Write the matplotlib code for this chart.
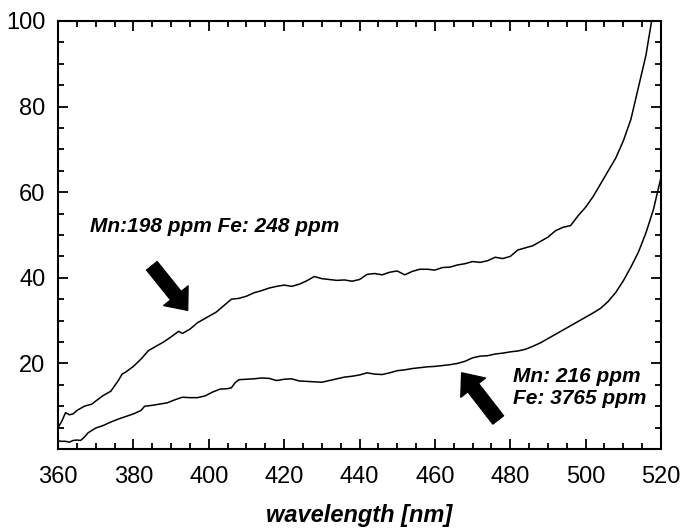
import matplotlib.pyplot as plt
from matplotlib.ticker import MultipleLocator

plt.rcParams['font.family'] = ['Liberation Sans', 'DejaVu Sans']

# upper curve (Mn 198 ppm, Fe 248 ppm)
wl_a = [360, 361, 362, 363, 364, 365, 367, 369, 370, 372, 374, 376, 377, 378, 380,
        382, 384, 386, 388, 390, 392, 393, 395, 397, 400, 402, 404, 406, 408, 410,
        412, 414, 416, 418, 420, 422, 424, 426, 428, 430, 432, 434, 436, 438, 440,
        442, 444, 446, 448, 450, 452, 454, 456, 458, 460, 462, 464, 466, 468, 470,
        472, 474, 476, 478, 480, 482, 484, 486, 488, 490, 492, 494, 496, 498, 500,
        502, 504, 506, 508, 510, 512, 514, 516, 517.5, 518]
val_a = [5.0, 6.5, 8.5, 8.0, 8.2, 9.0, 10.0, 10.5, 11.2, 12.5, 13.5, 16.0, 17.5, 18.0, 19.3,
         21.0, 23.0, 24.0, 25.0, 26.2, 27.5, 27.0, 28.0, 29.5, 31.0, 32.0, 33.5, 35.0, 35.2, 35.7,
         36.5, 37.0, 37.6, 38.0, 38.3, 38.0, 38.5, 39.3, 40.3, 39.8, 39.6, 39.4, 39.5, 39.2, 39.6,
         40.8, 41.0, 40.7, 41.3, 41.6, 40.7, 41.5, 42.0, 42.0, 41.8, 42.4, 42.5, 43.0, 43.3, 43.8,
         43.6, 44.0, 44.8, 44.5, 45.0, 46.5, 47.0, 47.5, 48.5, 49.5, 51.0, 51.8, 52.2, 54.5, 56.5,
         59.0, 62.0, 65.0, 68.0, 72.0, 77.0, 84.5, 92.0, 100.0, 102.0]

# lower curve (Mn 216 ppm, Fe 3765 ppm)
wl_b = [360, 361, 362, 363, 364, 365, 366, 367, 368, 370, 372, 374, 376, 378, 380,
        382, 383, 385, 387, 389, 391, 393, 395, 397, 399, 401, 403, 405, 406, 407,
        408, 410, 412, 414, 416, 418, 420, 422, 424, 426, 428, 430, 432, 434, 436,
        438, 440, 442, 444, 446, 448, 450, 452, 454, 456, 458, 460, 462, 464, 466,
        468, 470, 472, 474, 476, 478, 480, 482, 484, 486, 488, 490, 492, 494, 496,
        498, 500, 502, 504, 506, 508, 510, 512, 514, 516, 518, 520]
val_b = [1.9, 1.8, 1.8, 1.6, 2.0, 2.1, 2.0, 2.8, 3.8, 4.9, 5.5, 6.3, 7.0, 7.6, 8.2,
         9.0, 10.0, 10.2, 10.5, 10.8, 11.5, 12.1, 12.0, 12.0, 12.4, 13.3, 14.0, 14.1, 14.3, 15.5,
         16.2, 16.3, 16.4, 16.6, 16.5, 16.0, 16.3, 16.4, 15.9, 15.8, 15.7, 15.6, 16.0, 16.4, 16.8,
         17.0, 17.3, 17.8, 17.5, 17.4, 17.8, 18.3, 18.5, 18.8, 19.0, 19.2, 19.3, 19.5, 19.7, 20.0,
         20.5, 21.3, 21.7, 21.8, 22.2, 22.4, 22.7, 22.9, 23.3, 24.0, 24.8, 25.8, 26.8, 27.8, 28.8,
         29.8, 30.8, 31.8, 32.9, 34.5, 36.6, 39.3, 42.5, 46.0, 50.5, 56.0, 63.5]

fig = plt.figure(figsize=(6.85, 5.3), dpi=100)
ax = fig.add_axes([0.0847, 0.1528, 0.8803, 0.8076])

ax.plot(wl_a, val_a, color='black', lw=1.1)
ax.plot(wl_b, val_b, color='black', lw=1.1)

ax.set_xlim(360, 520)
ax.set_ylim(0, 100)
ax.xaxis.set_major_locator(MultipleLocator(20))
ax.xaxis.set_minor_locator(MultipleLocator(5))
ax.yaxis.set_minor_locator(MultipleLocator(5))
ax.set_yticks([20, 40, 60, 80, 100])
ax.tick_params(which='both', direction='in', top=True, right=True, width=1.3)
ax.tick_params(which='major', length=7, labelsize=17)
ax.tick_params(axis='x', which='major', pad=12)
ax.tick_params(axis='y', which='major', pad=9)
ax.tick_params(which='minor', length=4)
for s in ax.spines.values():
    s.set_linewidth(1.5)

ax.set_xlabel('wavelength [nm]', fontsize=17, fontweight='bold', fontstyle='italic', labelpad=12)

# annotations
ax.text(368.5, 51.9, 'Mn:198 ppm Fe: 248 ppm', fontsize=15, fontweight='bold',
        fontstyle='italic', va='center', ha='left')
ax.text(480.7, 14.4, 'Mn: 216 ppm\nFe: 3765 ppm', fontsize=15, fontweight='bold',
        fontstyle='italic', va='center', ha='left', linespacing=1.2)

arrow = dict(arrowstyle='simple,head_length=0.9,head_width=1.5,tail_width=0.65',
             color='black', mutation_scale=15, shrinkA=0, shrinkB=0)
ax.annotate('', xy=(394.4, 32.4), xytext=(384.9, 42.8), arrowprops=arrow)
ax.annotate('', xy=(467.1, 17.8), xytext=(476.8, 6.8), arrowprops=arrow)

fig.savefig('out.png', dpi=100)
